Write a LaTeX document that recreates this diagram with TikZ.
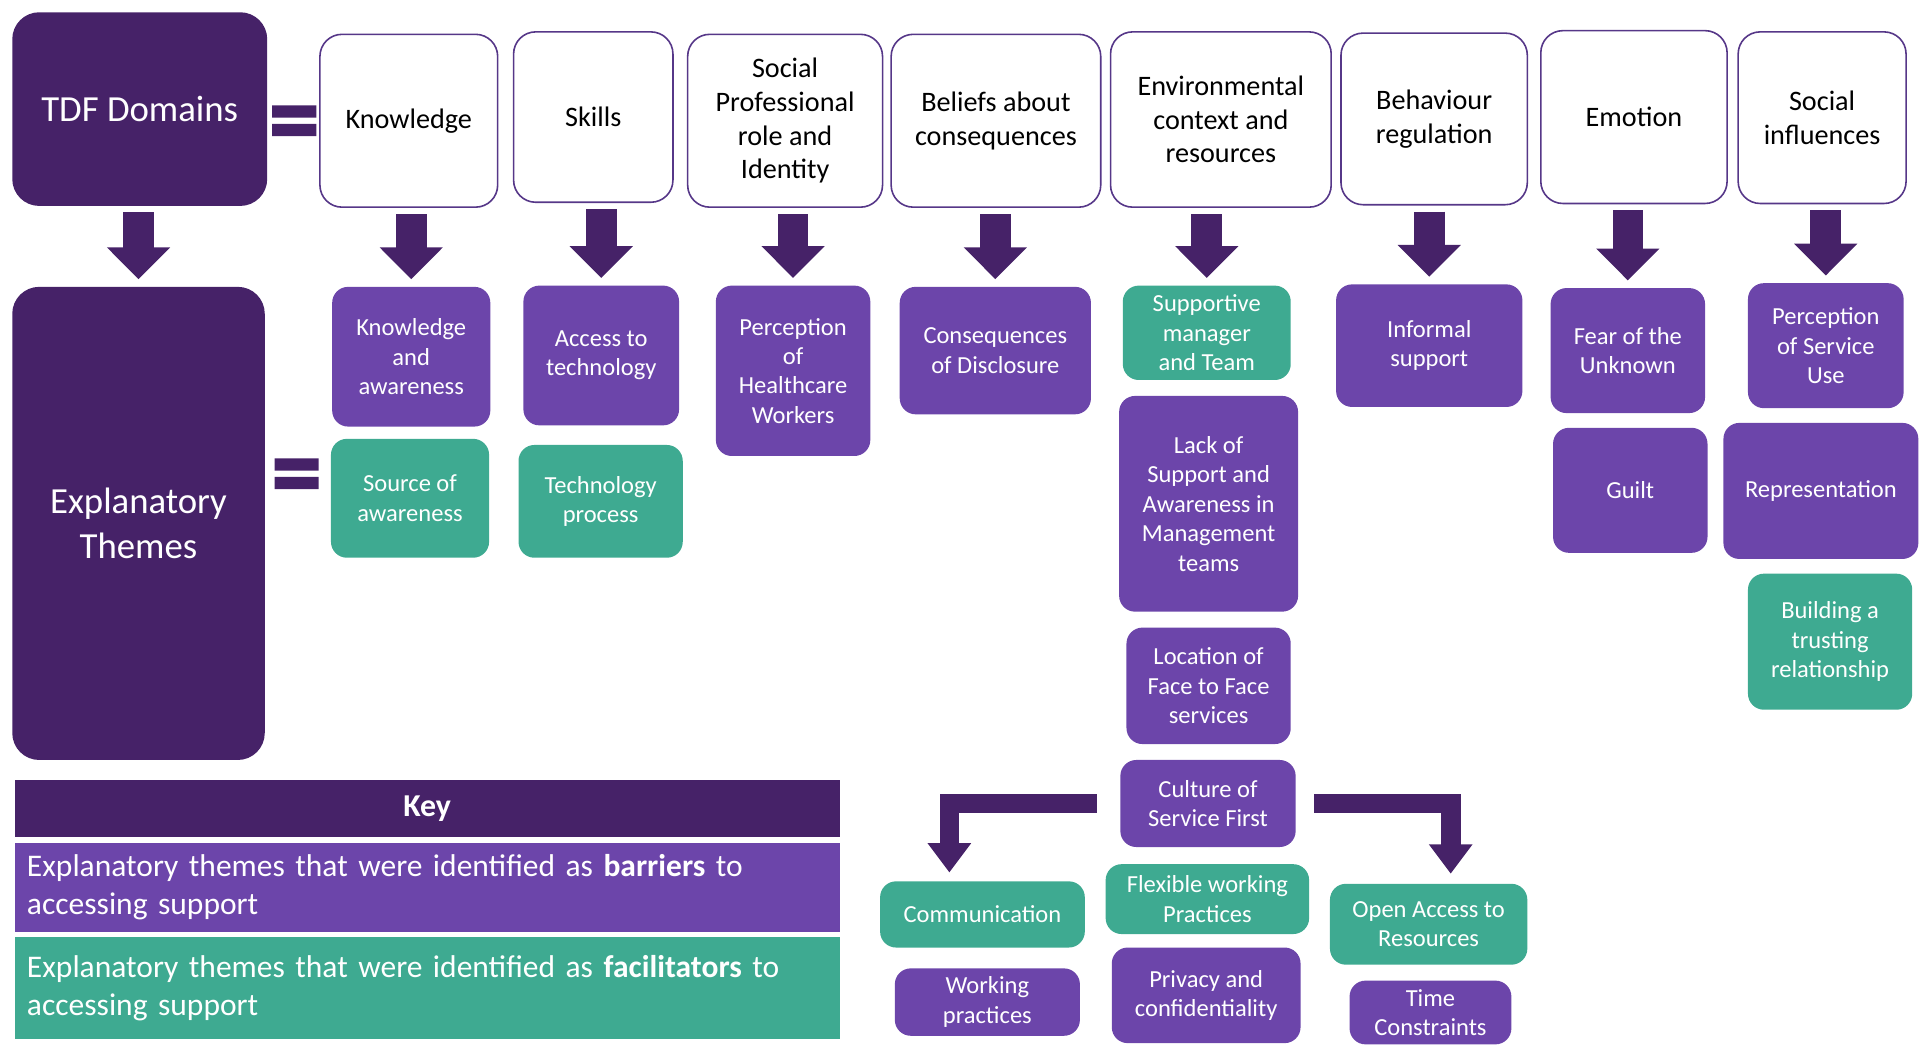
\documentclass[tikz,border=0pt]{standalone}
\usepackage{fontspec}
\setmainfont{Carlito}
\usetikzlibrary{arrows.meta}
\definecolor{dpurple}{RGB}{70,34,104}
\definecolor{mpurple}{RGB}{108,69,170}
\definecolor{tgreen}{RGB}{62,170,145}

\begin{document}
\begin{tikzpicture}[x=1pt,y=-1pt,
	boxsize/.style 2 args={minimum width=#1pt,minimum height=#2pt},
	bigbox/.style={fill=dpurple,text=white,rounded corners=22pt,align=center,inner sep=0pt,font=\fontsize{30}{36}\selectfont},
	domainbox/.style={draw=mpurple!80!black,line width=1.3pt,fill=white,rounded corners=18pt,align=center,inner sep=0pt,font=\fontsize{23}{27.5}\selectfont},
	barrier/.style={fill=mpurple,text=white,rounded corners=13pt,align=center,inner sep=0pt,font=\fontsize{20}{24}\selectfont},
	facil/.style={barrier,fill=tgreen},
	blockarrow/.style={draw=dpurple,line width=25pt,-{Triangle[width=50pt,length=26pt]},shorten <=5pt,shorten >=6pt},
	bentarrow/.style={draw=dpurple,line width=16pt,-{Triangle[width=34pt,length=24pt]}},
	keyrow/.style={minimum width=673pt,text width=653pt,align=left,inner sep=0pt,text=white,font=\fontsize{25.7}{31}\selectfont}]
	\useasboundingbox (0,0) rectangle (1568,855);
	\node[bigbox,boxsize={208}{158}] (tdf) at (114,89) {TDF Domains};
	\node[bigbox,boxsize={206}{386}] (expl) at (113,427) {Explanatory\\Themes};
	\fill[dpurple] (222,86) rectangle (258,96) (222,101) rectangle (258,111);
	\fill[dpurple] (224,374) rectangle (260,384) (224,389) rectangle (260,399);
	\node[domainbox,boxsize={145}{141}] (know) at (333.5,98.5) {Knowledge};
	\node[domainbox,boxsize={130}{139}] (skills) at (484,95.5) {Skills};
	\node[domainbox,boxsize={159}{141}] (spri) at (640.5,98.5) {Social\\Professional\\role and\\Identity};
	\node[domainbox,boxsize={171}{141}] (beliefs) at (812.5,98.5) {Beliefs about\\consequences};
	\node[domainbox,boxsize={180}{143}] (env) at (996,97.5) {Environmental\\context and\\resources};
	\node[domainbox,boxsize={152}{140}] (behav) at (1170,97) {Behaviour\\regulation};
	\node[domainbox,boxsize={152}{141}] (emotion) at (1333,95.5) {Emotion};
	\node[domainbox,boxsize={137}{140}] (socinf) at (1486.5,96) {Social\\influences};
	\node[barrier,boxsize={129}{114}] (kaw) at (335.5,291) {Knowledge\\and\\awareness};
	\node[facil,boxsize={129}{97}] (source) at (334.5,406.5) {Source of\\awareness};
	\node[barrier,boxsize={127}{114}] (access) at (490.5,290) {Access to\\technology};
	\node[facil,boxsize={134}{92}] (techproc) at (490,409) {Technology\\process};
	\node[barrier,boxsize={126}{139}] (perchcw) at (647,302.5) {Perception\\of\\Healthcare\\Workers};
	\node[barrier,boxsize={156}{104}] (conseq) at (812,286) {Consequences\\of Disclosure};
	\node[facil,boxsize={137}{77}] (supp) at (984.5,271.5) {Supportive\\manager\\and Team};
	\node[barrier,boxsize={146}{176}] (lack) at (986,411) {Lack of\\Support and\\Awareness in\\Management\\teams};
	\node[barrier,boxsize={134}{95}] (location) at (986,559.5) {Location of\\Face to Face\\services};
	\node[barrier,boxsize={143}{71}] (culture) at (985.5,655.5) {Culture of\\Service First};
	\node[facil,boxsize={166}{57}] (flexible) at (985,733.5) {Flexible working\\Practices};
	\node[barrier,boxsize={154}{78}] (privacy) at (984,812) {Privacy and\\confidentiality};
	\node[facil,boxsize={167}{54}] (comm) at (801.5,746) {Communication};
	\node[barrier,boxsize={151}{55}] (working) at (805.5,817.5) {Working\\practices};
	\node[facil,boxsize={161}{66}] (openacc) at (1165.5,754) {Open Access to\\Resources};
	\node[barrier,boxsize={132}{52}] (timec) at (1167,826) {Time\\Constraints};
	\node[barrier,boxsize={152}{100}] (informal) at (1166,282) {Informal\\support};
	\node[barrier,boxsize={126}{102}] (fear) at (1328,286) {Fear of the\\Unknown};
	\node[barrier,boxsize={126}{102}] (guilt) at (1330,400) {Guilt};
	\node[barrier,boxsize={127}{102}] (percsu) at (1489.5,282) {Perception\\of Service\\Use};
	\node[barrier,boxsize={159}{111}] (repres) at (1485.5,400.5) {Representation};
	\node[facil,boxsize={134}{111}] (building) at (1493,523.5) {Building a\\trusting\\relationship};
	\draw[blockarrow] (expl.north |- tdf.south) -- (expl.north);
	\foreach \d/\t in {know/kaw,skills/access,spri/perchcw,beliefs/conseq,env/supp,behav/informal,emotion/fear,socinf/percsu}
		\draw[blockarrow] (\t.north |- \d.south) -- (\t.north);
	\draw[bentarrow,shorten >=7pt] ([xshift=-19pt]culture.west) -| ([xshift=-27pt]comm.north);
	\draw[bentarrow,shorten >=8pt] ([xshift=15pt]culture.east) -| ([xshift=18pt]openacc.north);
	\node[fill=dpurple,boxsize={673}{47},text=white,font=\bfseries\fontsize{26}{31}\selectfont] (keyhead) at (348.5,659.5) {Key};
	\node[keyrow,fill=mpurple,minimum height=72pt] (keybar) at (348.5,724) {Explanatory themes that were identified as \textbf{barriers} to\\accessing support};
	\node[keyrow,fill=tgreen,minimum height=84pt] (keyfac) at (348.5,806) {Explanatory themes that were identified as \textbf{facilitators} to\\accessing support\\[-6pt]};
\end{tikzpicture}
\end{document}
